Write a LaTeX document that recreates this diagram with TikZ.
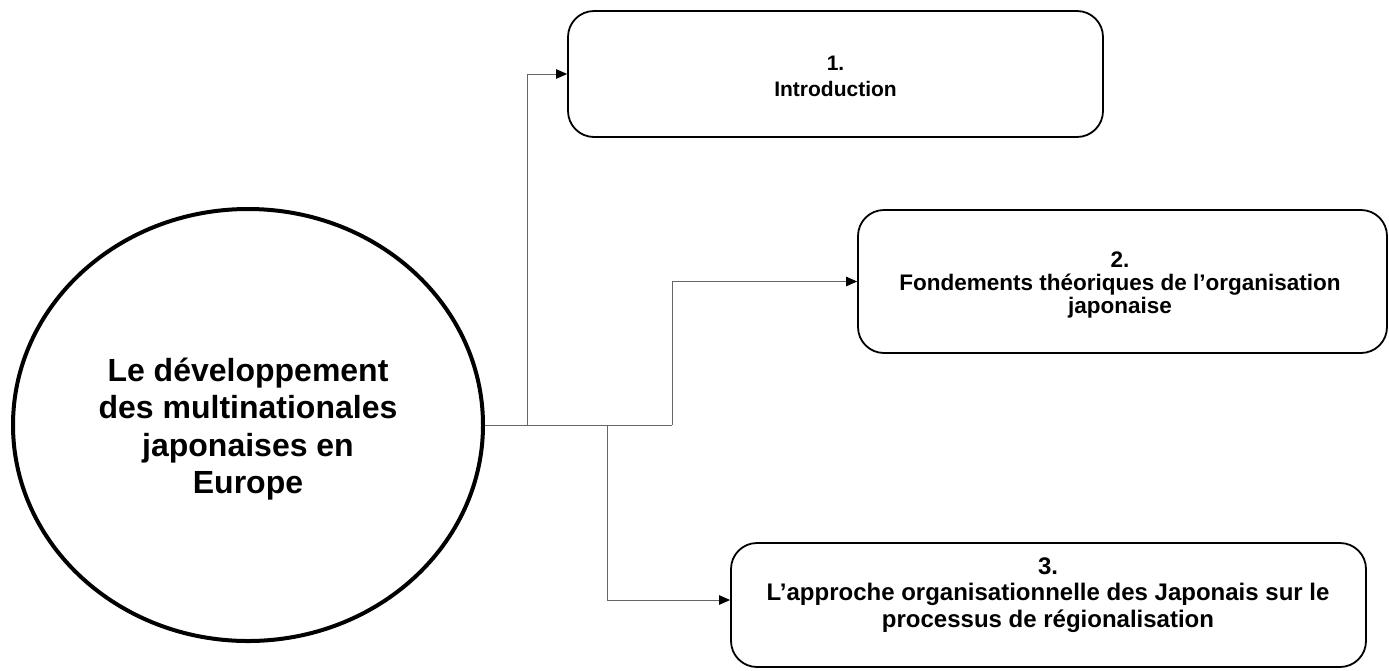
\documentclass[tikz,border=0pt]{standalone}
\usepackage{fontspec}
\setmainfont{Liberation Sans}
\usetikzlibrary{arrows.meta,shapes.geometric}
\begin{document}
\begin{tikzpicture}[x=1pt,y=-1pt,
  boxnode/.style={draw, line width=1.8pt, rounded corners=26pt, inner sep=0pt},
  boxtext/.style={align=center, inner sep=0pt},
  mainnode/.style={draw, ellipse, line width=4pt, inner sep=0pt, align=center,
    font=\bfseries\fontsize{32}{37.5}\selectfont},
  link/.style={line width=1pt, draw=black!60},
  conn/.style={link, -{Triangle[length=11pt,width=9.5pt,color=black]}}]
\useasboundingbox (0,0) rectangle (1389,670);
\node[mainnode, minimum width=470pt, minimum height=432pt] (c) at (248,425) {};
\node[align=center, inner sep=0pt, font=\bfseries\fontsize{32}{37.5}\selectfont] (ct) at (248,429)
  {Le développement\\des multinationales\\japonaises en\\Europe};
\node[boxnode, minimum width=535pt, minimum height=126pt] (b1) at (835.5,74) {};
\node[boxtext, font=\bfseries\fontsize{21}{26}\selectfont] (t1) at (835.5,76)
  {1.\\Introduction};
\node[boxnode, minimum width=529pt, minimum height=143pt] (b2) at (1122.5,281.5) {};
\node[boxtext, font=\bfseries\fontsize{22.5}{23}\selectfont] (t2) at (1120,285)
  {2.\\Fondements théoriques de l’organisation\\japonaise};
\node[boxnode, minimum width=635pt, minimum height=124pt] (b3) at (1048.5,605) {};
\node[boxtext, font=\bfseries\fontsize{24}{26.5}\selectfont] (t3) at (1048,595)
  {3.\\L’approche organisationnelle des Japonais sur le\\processus de régionalisation};
\coordinate (j1) at (527,425);
\coordinate (j3) at (607,425);
\coordinate (j2) at (672,425);
\coordinate (a3) at ([yshift=5pt]b3.west);
\draw[link] (c.east) -- (j2);
\draw[conn] (j1) |- (b1.west);
\draw[conn] (j2) |- (b2.west);
\draw[conn] (j3) |- (a3);
\end{tikzpicture}
\end{document}
